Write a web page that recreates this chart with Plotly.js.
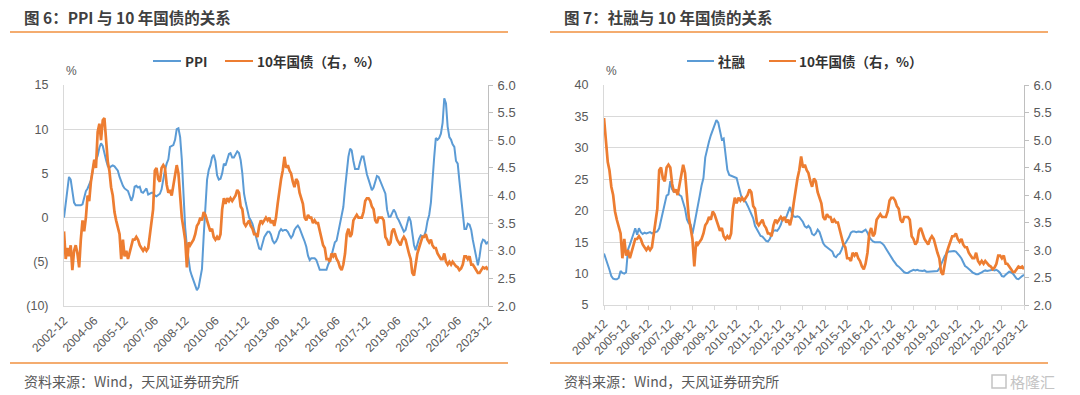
<!DOCTYPE html>
<html><head><meta charset="utf-8">
<script src="https://cdn.plot.ly/plotly-3.0.1.min.js"></script>
<style>html,body{margin:0;padding:0;background:#fff;}#chart{width:1080px;height:395px;}</style>
</head><body><div id="chart"></div>
<script>
// ---------- data ----------
const leftStart = '2002-12';   // first month of PPI / 10Y series
const rightStart = '2004-12';  // first month of 社融 series

// PPI YoY (%), monthly 2002-12 .. 2023-12
const ppi = [
 0.0, 1.6, 3.5, 4.6, 4.3, 2.8, 1.7, 1.4, 1.4, 1.4, 1.4, 1.5,
 2.2, 3.0, 3.3, 3.7, 4.2, 5.2, 6.4, 6.5, 7.0, 7.9, 8.4, 8.1,
 7.1, 6.5, 5.8, 5.6, 5.8, 5.9, 5.8, 5.5, 5.3, 4.6, 4.0, 3.6,
 3.3, 3.1, 3.0, 2.5, 1.9, 2.4, 3.5, 3.6, 3.4, 3.5, 2.9, 2.8,
 3.1, 3.3, 2.6, 2.7, 2.8, 2.8, 2.5, 2.4, 2.6, 2.7, 3.2, 4.6,
 5.4, 6.1, 6.6, 8.0, 8.1, 8.2, 8.8, 10.0, 10.1, 9.1, 6.6, 2.0,
 -1.1, -3.3, -4.5, -6.0, -6.6, -7.2, -7.8, -8.2, -7.9, -7.0, -5.8, -2.1,
 1.7, 4.3, 5.4, 5.9, 6.8, 7.1, 6.4, 4.8, 4.3, 4.4, 5.0, 6.1,
 5.9, 6.6, 7.2, 7.3, 6.8, 6.8, 7.1, 7.5, 7.3, 6.5, 5.0, 2.7,
 1.7, 0.7, 0.0, -0.3, -0.7, -1.4, -2.1, -2.9, -3.5, -3.6, -2.8, -2.2,
 -1.9, -1.6, -1.6, -1.9, -2.6, -2.9, -2.7, -2.3, -1.6, -1.3, -1.5, -1.4,
 -1.4, -1.6, -2.0, -2.3, -2.0, -1.4, -1.1, -0.9, -1.2, -1.8, -2.2, -2.7,
 -3.3, -4.3, -4.8, -4.6, -4.6, -4.6, -4.8, -5.4, -5.9, -5.9, -5.9, -5.9,
 -5.9, -5.3, -4.9, -4.3, -3.4, -2.8, -2.6, -1.7, -0.8, 0.1, 1.2, 3.3,
 5.5, 6.9, 7.8, 7.6, 6.4, 5.5, 5.5, 5.5, 6.3, 6.9, 6.9, 5.8,
 4.9, 4.3, 3.7, 3.1, 3.4, 4.1, 4.7, 4.6, 4.1, 3.6, 3.3, 2.7,
 0.9, 0.1, 0.1, 0.4, 0.9, 0.6, 0.0, -0.3, -0.8, -1.2, -1.6, -1.4,
 -0.5, 0.1, -0.4, -1.5, -3.1, -3.7, -3.0, -2.4, -2.0, -2.1, -2.1, -1.5,
 -0.4, 0.3, 1.7, 4.4, 6.8, 9.0, 8.8, 9.0, 9.5, 10.7, 13.5, 12.9,
 10.3, 9.1, 8.8, 8.3, 8.0, 6.4, 6.1, 4.2, 2.3, 0.9, -1.3, -1.3,
 -0.7, -0.8, -1.4, -2.5, -3.6, -4.6, -5.4, -4.4, -3.0, -2.5, -2.6, -3.0,
 -2.7
];

// 10年国债 yield (%), monthly 2002-12 .. 2023-12
const bond10y = [
 3.35, 2.85, 3.05, 2.9, 3.1, 2.65, 3.0, 3.1, 2.95, 2.7, 3.2, 3.55,
 3.35, 3.6, 4.0, 3.9, 4.25, 4.5, 4.65, 4.5, 5.15, 5.3, 5.0, 5.36,
 5.4, 5.0, 4.6, 4.45, 4.15, 4.0, 3.7, 3.55, 3.4, 3.3, 2.85, 3.2,
 2.9, 3.0, 2.85, 2.95, 3.1, 3.2, 3.2, 3.25, 3.2, 3.1, 3.05, 3.0,
 3.05, 3.0, 3.05, 3.3, 3.5, 3.75, 4.45, 4.5, 4.3, 4.25, 4.5, 4.55,
 4.5, 4.2, 4.05, 4.1, 4.0, 4.2, 4.35, 4.55, 4.4, 3.9, 3.6, 3.4,
 3.2, 2.7, 3.15, 3.1, 3.15, 3.2, 3.3, 3.45, 3.5, 3.6, 3.55, 3.7,
 3.65, 3.55, 3.45, 3.35, 3.4, 3.25, 3.2, 3.25, 3.2, 3.3, 3.75, 3.95,
 3.85, 3.95, 3.9, 3.95, 3.9, 3.95, 4.0, 4.1, 4.05, 3.8, 3.75, 3.5,
 3.45, 3.5, 3.55, 3.45, 3.4, 3.3, 3.3, 3.25, 3.45, 3.55, 3.5, 3.55,
 3.6, 3.55, 3.6, 3.5, 3.55, 3.45, 3.6, 3.85, 4.1, 4.3, 4.45, 4.7,
 4.5, 4.55, 4.45, 4.4, 4.25, 4.15, 4.3, 4.25, 4.05, 3.95, 3.85, 3.6,
 3.55, 3.65, 3.6, 3.6, 3.5, 3.55, 3.5, 3.5, 3.35, 3.25, 3.1, 3.05,
 2.85, 2.85, 2.8, 2.95, 2.9, 2.95, 2.85, 2.8, 2.7, 2.65, 2.75, 2.95,
 3.3, 3.4, 3.25, 3.3, 3.55, 3.6, 3.65, 3.6, 3.6, 3.6, 3.7, 3.9,
 3.95, 3.95, 3.9, 3.8, 3.75, 3.55, 3.5, 3.6, 3.6, 3.6, 3.55, 3.25,
 3.2, 3.1, 3.15, 3.35, 3.4, 3.3, 3.2, 3.15, 3.1, 3.2, 3.25, 3.2,
 3.05, 2.95, 2.85, 2.6, 2.55, 2.75, 2.95, 3.05, 3.15, 3.25, 3.25, 3.3,
 3.2, 3.15, 3.2, 3.1, 3.05, 3.05, 2.95, 2.9, 2.85, 2.85, 2.95, 2.8,
 2.75, 2.8, 2.75, 2.8, 2.75, 2.72, 2.7, 2.65, 2.68, 2.75, 2.9, 2.9,
 2.85, 2.9, 2.75, 2.75, 2.7, 2.65, 2.6, 2.6, 2.65, 2.7, 2.68, 2.7,
 2.65
];

// 社融 stock growth (%), monthly 2004-12 .. 2023-12
const tsf = [
 13.2, 12.4, 11.6, 10.6, 9.6, 9.2, 9.1, 9.1, 9.3, 10.4, 10.1, 10.0,
 10.2, 13.8, 14.6, 15.6, 16.3, 17.2, 16.2, 17.2, 16.6, 16.3, 16.5, 16.4,
 16.5, 16.6, 16.4, 16.5, 16.6, 16.7, 17.2, 18.5, 19.8, 21.0, 22.4, 22.6,
 24.7, 23.4, 23.0, 23.2, 22.8, 22.5, 22.3, 21.2, 20.3, 18.6, 18.0, 17.8,
 16.3, 17.8, 19.6, 21.0, 22.4, 24.0, 25.2, 28.5, 30.0, 31.0, 32.0, 32.8,
 33.6, 34.4, 34.0, 32.5, 31.3, 31.5, 28.6, 26.5, 25.7, 25.6, 25.5, 25.4,
 25.2, 24.0, 23.0, 21.8, 21.6, 21.4, 20.8, 20.2, 19.6, 18.8, 17.6, 17.0,
 16.5, 16.0, 15.9, 15.5, 15.2, 15.1, 15.5, 16.2, 16.8, 16.9, 16.8, 17.2,
 17.8, 18.8, 18.7, 19.0, 19.8, 20.6, 19.6, 19.1, 19.0, 19.1, 19.0, 18.6,
 18.2, 17.5, 17.3, 17.6, 17.2, 16.3, 16.1, 16.4, 17.0, 16.6, 15.5, 14.8,
 14.4, 14.2, 14.0, 13.8, 13.5, 12.8, 12.6, 13.0, 13.2, 13.8, 14.6, 14.8,
 15.2, 15.8, 16.5, 16.7, 16.7, 16.6, 16.7, 16.7, 16.6, 16.8, 17.0, 16.5,
 15.8, 15.4, 15.1, 15.0, 15.0, 14.9, 15.0, 14.8, 14.5, 14.0, 13.5, 13.0,
 12.6, 12.1, 11.7, 11.3, 11.1, 10.8, 10.5, 10.2, 10.1, 10.1, 10.3, 10.5,
 10.6, 10.5, 10.6, 10.5, 10.4, 10.4, 10.5, 10.3, 10.3, 10.3, 10.3, 10.3,
 10.4, 10.4, 10.8, 11.5, 12.2, 12.8, 13.2, 13.5, 13.5, 13.6, 13.6, 13.5,
 13.2, 12.8, 12.4, 11.8, 11.2, 11.0, 10.8, 10.5, 10.2, 10.0, 9.9, 9.9,
 10.0, 10.2, 10.4, 10.5, 10.4, 10.5, 10.6, 10.6, 10.5, 10.6, 10.4, 10.1,
 9.6, 9.5, 9.8, 10.0, 10.3, 10.2, 10.0, 9.6, 9.2, 9.1, 9.4, 9.6, 9.8
];

const leftTickLabels = ['2002-12','2004-06','2005-12','2007-06','2008-12','2010-06','2011-12','2013-06',
  '2014-12','2016-06','2017-12','2019-06','2020-12','2022-06','2023-12'];
const rightTickLabels = ['2004-12','2005-12','2006-12','2007-12','2008-12','2009-12','2010-12','2011-12',
  '2012-12','2013-12','2014-12','2015-12','2016-12','2017-12','2018-12','2019-12','2020-12','2021-12',
  '2022-12','2023-12'];
const leftYTicks = [-10, -5, 0, 5, 10, 15];
const leftYTickText = ['(10)', '(5)', '0', '5', '10', '15'];

const nameBlueL = 'PPI';
const nameBlueR = '社融';
const nameBond = '10年国债（右，%）';
const titleL = '图 6：PPI 与 10 年国债的关系';
const titleR = '图 7：社融与 10 年国债的关系';
const source = '资料来源：Wind，天风证券研究所';

// ---------- helpers ----------
function months(start, n) {
  let [y, m] = start.split('-').map(Number);
  const out = [];
  for (let i = 0; i < n; i++) {
    out.push(y + '-' + String(m).padStart(2, '0') + '-01');
    m++; if (m > 12) { m = 1; y++; }
  }
  return out;
}
const W = 1080, H = 395;
const px = x => x / W;
const py = y => (H - y) / H;

const xLeft = months(leftStart, ppi.length);
const xRight = months(rightStart, tsf.length);
const offset = xLeft.indexOf(rightStart + '-01');
const bondRight = bond10y.slice(offset);

const BLUE = '#5b9bd5', ORANGE = '#ed7d31', ACC = '#f0913f';
const TXT = '#595959', GRID = '#d9d9d9', AX = '#bfbfbf';
const NUMFONT = 'Liberation Sans, Arial, Noto Sans CJK SC, sans-serif';
const CJK = 'Noto Sans CJK SC, Liberation Sans, sans-serif';

const traces = [
  {x: xLeft, y: ppi, xaxis: 'x', yaxis: 'y', type: 'scatter', mode: 'lines',
   line: {color: BLUE, width: 2}, name: nameBlueL},
  {x: xLeft, y: bond10y, xaxis: 'x', yaxis: 'y2', type: 'scatter', mode: 'lines',
   line: {color: ORANGE, width: 2.7}, name: nameBond},
  {x: xRight, y: tsf, xaxis: 'x2', yaxis: 'y3', type: 'scatter', mode: 'lines',
   line: {color: BLUE, width: 2}, name: nameBlueR},
  {x: xRight, y: bondRight, xaxis: 'x2', yaxis: 'y4', type: 'scatter', mode: 'lines',
   line: {color: ORANGE, width: 2.7}, name: nameBond}
];

const xCommon = {
  type: 'date', tickangle: -45, showgrid: false, zeroline: false,
  showline: true, linecolor: GRID, linewidth: 1,
  tickfont: {family: NUMFONT, size: 12, color: TXT}, ticklabelstandoff: 2
};
const yLeftCommon = {
  showgrid: true, gridcolor: GRID, gridwidth: 1, zeroline: false,
  showline: true, linecolor: GRID, ticks: '', ticklabelstandoff: 12,
  tickfont: {family: NUMFONT, size: 12.5, color: TXT}
};
const yRightCommon = {
  side: 'right', range: [2, 6], dtick: 0.5, tickformat: '.1f', showgrid: false, zeroline: false,
  showline: true, linecolor: AX, ticks: 'outside', ticklen: 4, tickcolor: AX,
  tickfont: {family: NUMFONT, size: 13, color: TXT}, ticklabelstandoff: 2
};

const dom1y = [py(306), py(85)];
const dom2y = [py(305), py(85)];

const layout = {
  width: W, height: H, margin: {l: 0, r: 0, t: 0, b: 0},
  paper_bgcolor: '#fff', plot_bgcolor: '#fff', showlegend: false,
  font: {family: CJK, color: TXT},
  xaxis: Object.assign({}, xCommon, {
    domain: [px(64), px(488)], anchor: 'y',
    range: [xLeft[0], xLeft[xLeft.length - 1]],
    tickvals: leftTickLabels.map(s => s + '-01'), ticktext: leftTickLabels, ticks: ''
  }),
  yaxis: Object.assign({}, yLeftCommon, {
    domain: dom1y, anchor: 'x', range: [-10, 15],
    tickvals: leftYTicks, ticktext: leftYTickText
  }),
  yaxis2: Object.assign({}, yRightCommon, {overlaying: 'y', anchor: 'x'}),
  xaxis2: Object.assign({}, xCommon, {
    domain: [px(604), px(1024)], anchor: 'y3',
    range: [xRight[0], xRight[xRight.length - 1]],
    tickvals: rightTickLabels.map(s => s + '-01'), ticktext: rightTickLabels,
    ticks: 'outside', ticklen: 4, tickcolor: GRID
  }),
  yaxis3: Object.assign({}, yLeftCommon, {
    domain: dom2y, anchor: 'x2', range: [5, 40], dtick: 5, tick0: 5
  }),
  yaxis4: Object.assign({}, yRightCommon, {overlaying: 'y3', anchor: 'x2'}),
  shapes: [
    {type: 'line', xref: 'paper', yref: 'paper', x0: px(10), x1: px(508), y0: py(32), y1: py(32), line: {color: ACC, width: 1.3}},
    {type: 'line', xref: 'paper', yref: 'paper', x0: px(550), x1: px(1048), y0: py(32), y1: py(32), line: {color: ACC, width: 1.3}},
    {type: 'line', xref: 'paper', yref: 'paper', x0: px(10), x1: px(508), y0: py(363), y1: py(363), line: {color: ACC, width: 1.3}},
    {type: 'line', xref: 'paper', yref: 'paper', x0: px(550), x1: px(1048), y0: py(363), y1: py(363), line: {color: ACC, width: 1.3}},
    {type: 'line', xref: 'paper', yref: 'paper', x0: px(153), x1: px(181), y0: py(61), y1: py(61), line: {color: BLUE, width: 2}},
    {type: 'line', xref: 'paper', yref: 'paper', x0: px(225), x1: px(253), y0: py(61), y1: py(61), line: {color: ORANGE, width: 2}},
    {type: 'line', xref: 'paper', yref: 'paper', x0: px(687), x1: px(714), y0: py(61), y1: py(61), line: {color: BLUE, width: 2}},
    {type: 'line', xref: 'paper', yref: 'paper', x0: px(769), x1: px(796), y0: py(61), y1: py(61), line: {color: ORANGE, width: 2}},
    {type: 'rect', xref: 'paper', yref: 'paper', x0: px(992), x1: px(1006), y0: py(388), y1: py(375), line: {color: '#c4c4c4', width: 1.5}}
  ],
  annotations: [
    {text: '<b>' + titleL + '</b>', x: px(22), y: py(17), xref: 'paper', yref: 'paper', xanchor: 'left', yanchor: 'middle', showarrow: false, font: {family: CJK, size: 15.5, color: '#404040'}},
    {text: '<b>' + titleR + '</b>', x: px(562), y: py(17), xref: 'paper', yref: 'paper', xanchor: 'left', yanchor: 'middle', showarrow: false, font: {family: CJK, size: 15.5, color: '#404040'}},
    {text: '%', x: px(71), y: py(71), xref: 'paper', yref: 'paper', xanchor: 'center', yanchor: 'middle', showarrow: false, font: {family: NUMFONT, size: 12, color: TXT}},
    {text: '%', x: px(611), y: py(71), xref: 'paper', yref: 'paper', xanchor: 'center', yanchor: 'middle', showarrow: false, font: {family: NUMFONT, size: 12, color: TXT}},
    {text: '<b>' + nameBlueL + '</b>', x: px(183), y: py(61), xref: 'paper', yref: 'paper', xanchor: 'left', yanchor: 'middle', showarrow: false, font: {family: CJK, size: 13.5, color: '#333'}},
    {text: '<b>' + nameBond + '</b>', x: px(255), y: py(61), xref: 'paper', yref: 'paper', xanchor: 'left', yanchor: 'middle', showarrow: false, font: {family: CJK, size: 13.5, color: '#333'}},
    {text: '<b>' + nameBlueR + '</b>', x: px(716), y: py(61), xref: 'paper', yref: 'paper', xanchor: 'left', yanchor: 'middle', showarrow: false, font: {family: CJK, size: 13.5, color: '#333'}},
    {text: '<b>' + nameBond + '</b>', x: px(797), y: py(61), xref: 'paper', yref: 'paper', xanchor: 'left', yanchor: 'middle', showarrow: false, font: {family: CJK, size: 13.5, color: '#333'}},
    {text: source, x: px(22), y: py(381), xref: 'paper', yref: 'paper', xanchor: 'left', yanchor: 'middle', showarrow: false, font: {family: CJK, size: 14, color: TXT}},
    {text: source, x: px(562), y: py(381), xref: 'paper', yref: 'paper', xanchor: 'left', yanchor: 'middle', showarrow: false, font: {family: CJK, size: 14, color: TXT}},
    {text: '格隆汇', x: px(1008), y: py(381), xref: 'paper', yref: 'paper', xanchor: 'left', yanchor: 'middle', showarrow: false, font: {family: CJK, size: 15, color: '#c4c4c4'}}
  ]
};

Plotly.newPlot('chart', traces, layout, {displayModeBar: false, staticPlot: true});
</script>
</body></html>
